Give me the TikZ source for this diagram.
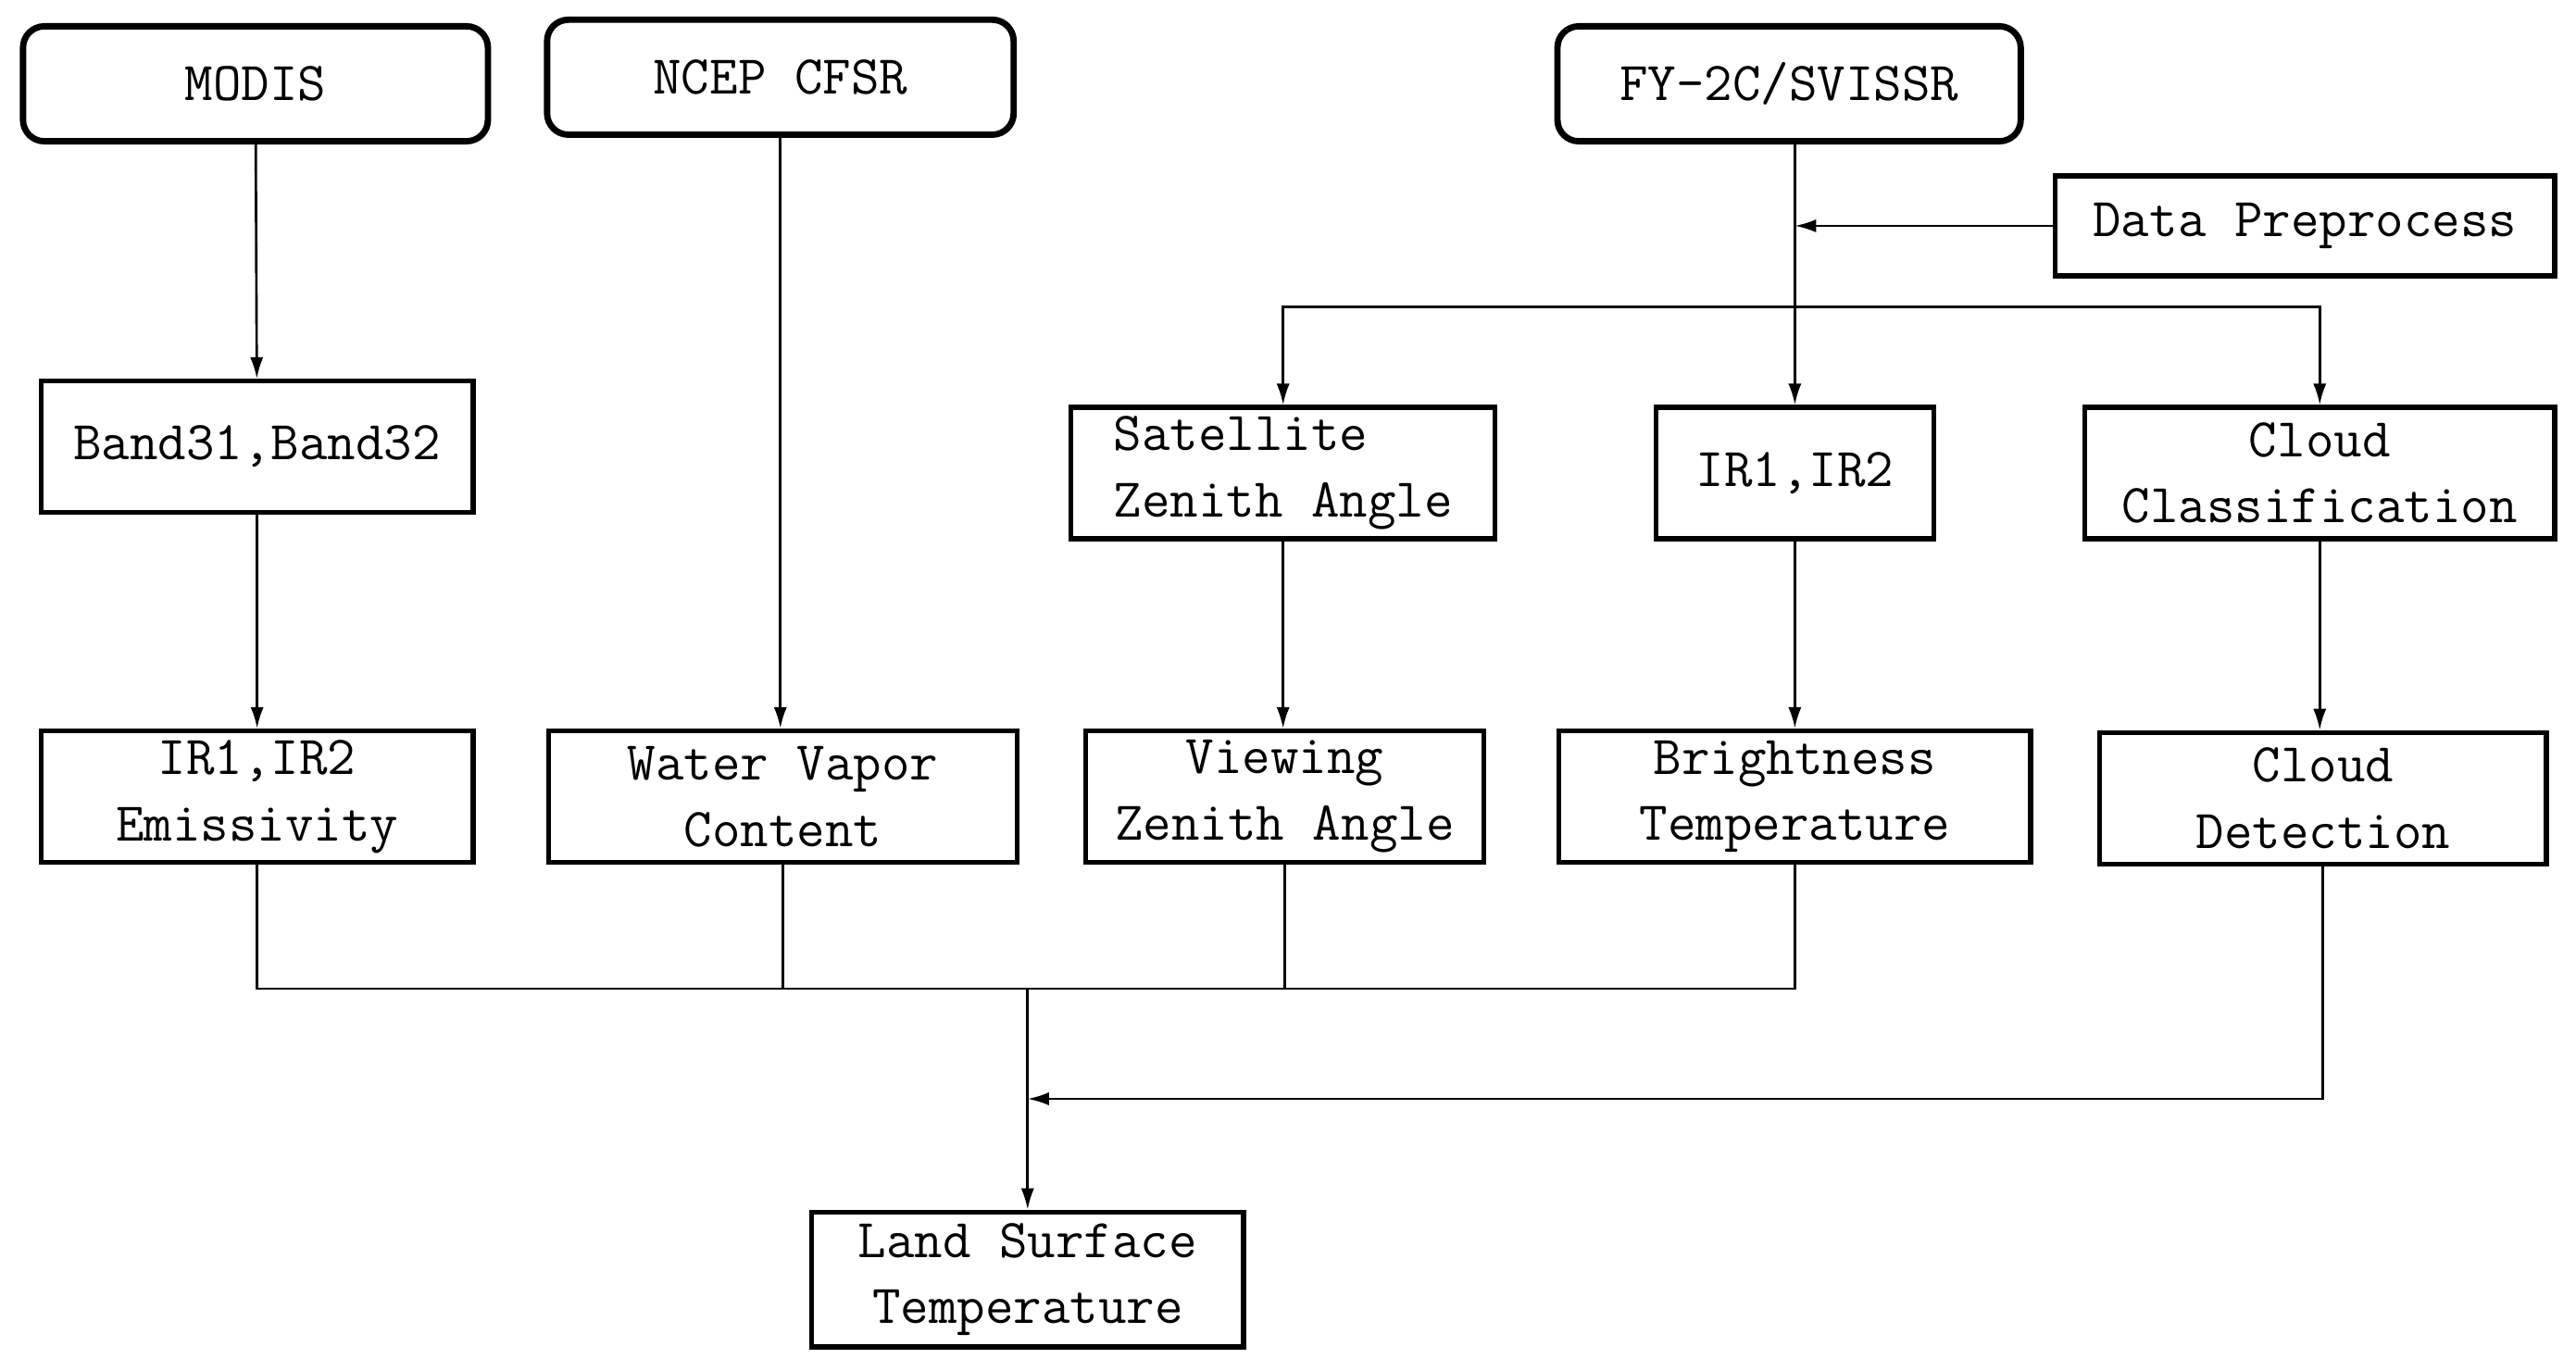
\documentclass[tikz,border=0pt]{standalone}
\usetikzlibrary{arrows.meta}

\begin{document}
\begin{tikzpicture}[>={Latex[length=2.6mm,width=1.6mm]}, line width=0.85pt,
    font=\fontsize{19}{23}\selectfont\ttfamily,
    srcbox/.style={draw, rounded corners=2.6mm, line width=2.2pt, minimum height=1.40cm, inner sep=0pt},
    databox/.style={draw, line width=1.7pt, minimum height=1.60cm, inner sep=0pt, align=center}]
    \useasboundingbox (0,0) rectangle (31.36,-16.694);
    % data sources
    \node[srcbox, minimum width=5.66cm] (modis) at (3.11,-1.02) {MODIS};
    \node[srcbox, minimum width=5.68cm] (ncep) at (9.50,-0.94) {NCEP CFSR};
    \node[srcbox, minimum width=5.64cm] (fy) at (21.78,-1.02) {FY-2C/SVISSR};
    \node[databox, minimum width=6.08cm, minimum height=1.22cm] (prep) at (28.06,-2.75) {Data Preprocess};
    % middle row
    \node[databox, minimum width=5.26cm] (band) at (3.13,-5.44) {Band31,Band32};
    \node[databox, minimum width=5.16cm, align=left] (sza) at (15.62,-5.76) {Satellite\\Zenith Angle};
    \node[databox, minimum width=3.38cm] (irfy) at (21.85,-5.76) {IR1,IR2};
    \node[databox, minimum width=5.72cm] (ccls) at (28.24,-5.76) {Cloud\\Classification};
    % lower row
    \node[databox, minimum width=5.26cm] (emis) at (3.13,-9.70) {IR1,IR2\\Emissivity};
    \node[databox, minimum width=5.70cm] (wvc) at (9.53,-9.70) {Water Vapor\\Content};
    \node[databox, minimum width=4.84cm] (vza) at (15.64,-9.70) {Viewing\\Zenith Angle};
    \node[databox, minimum width=5.74cm] (bt) at (21.85,-9.70) {Brightness\\Temperature};
    \node[databox, minimum width=5.44cm] (cdet) at (28.28,-9.72) {Cloud\\Detection};
    \node[databox, minimum width=5.26cm, minimum height=1.64cm] (lst) at (12.51,-15.58) {Land Surface\\Temperature};
    % connectors
    \coordinate (split) at (21.85,-3.74);
    \coordinate (bus) at (12.51,-12.04);
    \coordinate (cloudin) at (12.51,-13.38);
    \draw[->] (modis) -- (band);
    \draw[->] (band) -- (emis);
    \draw[->] (ncep) -- (ncep |- wvc.north);
    \draw[->] (fy.south -| irfy.north) -- (irfy);
    \draw[->] (prep) -- (prep -| irfy.north);
    \draw[->] (split) -| (sza);
    \draw[->] (split) -| (ccls);
    \draw[->] (sza) -- (sza |- vza.north);
    \draw[->] (irfy) -- (bt);
    \draw[->] (ccls) -- (ccls |- cdet.north);
    \draw (emis) |- (bus) -| (bt);
    \draw (wvc) -- (wvc |- bus);
    \draw (vza) -- (vza |- bus);
    \draw[->] (bus) -- (lst);
    \draw[->] (cdet) |- (cloudin);
\end{tikzpicture}
\end{document}
